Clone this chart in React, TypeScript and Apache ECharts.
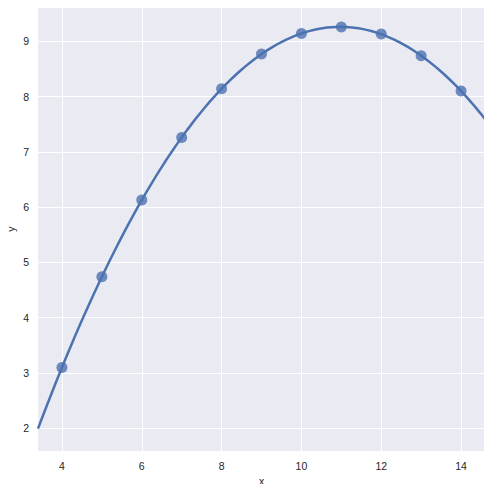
import React, { useEffect, useRef } from "react";
import * as echarts from "echarts";

const xValues = [10, 8, 13, 9, 11, 14, 6, 4, 12, 7, 5];
const yValues = [9.14, 8.14, 8.74, 8.77, 9.26, 8.1, 6.13, 3.1, 9.13, 7.26, 4.74];
const xTicks = [4, 6, 8, 10, 12, 14];
const yTicks = [2, 3, 4, 5, 6, 7, 8, 9];
const xRange = [3.4, 14.6];
const yRange = [1.59, 9.62];

// order-2 least squares regression fitted from the data (like seaborn's lmplot order=2)
function fitQuadratic(xs: number[], ys: number[]): number[] {
  const S = [0, 0, 0, 0, 0];
  const T = [0, 0, 0];
  for (let i = 0; i < xs.length; i++) {
    let p = 1;
    for (let k = 0; k < 5; k++) {
      S[k] += p;
      if (k < 3) T[k] += p * ys[i];
      p *= xs[i];
    }
  }
  const A = [
    [S[0], S[1], S[2], T[0]],
    [S[1], S[2], S[3], T[1]],
    [S[2], S[3], S[4], T[2]],
  ];
  for (let c = 0; c < 3; c++) {
    for (let r = c + 1; r < 3; r++) {
      const f = A[r][c] / A[c][c];
      for (let k = c; k < 4; k++) A[r][k] -= f * A[c][k];
    }
  }
  const b = [0, 0, 0];
  for (let r = 2; r >= 0; r--) {
    let s = A[r][3];
    for (let k = r + 1; k < 3; k++) s -= A[r][k] * b[k];
    b[r] = s / A[r][r];
  }
  return b;
}

export default function App() {
  const ref = useRef<HTMLDivElement>(null);
  useEffect(() => {
    if (!ref.current) return;
    const chart = echarts.init(ref.current, undefined, { renderer: "svg" });
    const coef = fitQuadratic(xValues, yValues);
    const line: number[][] = [];
    const n = 100;
    for (let i = 0; i < n; i++) {
      const x = xRange[0] + ((xRange[1] - xRange[0]) * i) / (n - 1);
      line.push([x, coef[0] + coef[1] * x + coef[2] * x * x]);
    }
    const font = "'Liberation Sans', Arial, sans-serif";
    chart.setOption({
      animation: false,
      backgroundColor: "#ffffff",
      grid: {
        left: 38,
        top: 7,
        right: 7,
        bottom: 41,
        show: true,
        backgroundColor: "#EAEAF2",
        borderWidth: 0,
        containLabel: false,
        outerBoundsMode: "none",
      },
      graphic: [
        {
          type: "text",
          x: 11,
          y: 229,
          rotation: Math.PI / 2,
          style: {
            text: "y",
            fill: "#262626",
            fontSize: 10.5,
            fontFamily: font,
            align: "center",
            verticalAlign: "middle",
          },
        },
      ],
      xAxis: {
        type: "value",
        min: xRange[0],
        max: xRange[1],
        name: "x",
        nameLocation: "middle",
        nameGap: 22,
        nameTextStyle: { color: "#262626", fontSize: 10.5, fontFamily: font },
        axisLine: { show: false },
        axisTick: { show: false, customValues: xTicks },
        axisLabel: {
          customValues: xTicks,
          color: "#262626",
          fontSize: 10.5,
          fontFamily: font,
          margin: 9,
        },
        splitLine: { show: true, lineStyle: { color: "#ffffff", width: 1 } },
      },
      yAxis: {
        type: "value",
        min: yRange[0],
        max: yRange[1],
        axisLine: { show: false },
        axisTick: { show: false, customValues: yTicks },
        axisLabel: {
          customValues: yTicks,
          color: "#262626",
          fontSize: 10.5,
          fontFamily: font,
          margin: 9,
        },
        splitLine: { show: true, lineStyle: { color: "#ffffff", width: 1 } },
      },
      series: [
        {
          type: "line",
          data: line,
          showSymbol: false,
          symbol: "none",
          smooth: false,
          lineStyle: { color: "#4C72B0", width: 2.5 },
          z: 2,
          silent: true,
        },
        {
          type: "scatter",
          data: xValues.map((x, i) => [x, yValues[i]]),
          symbolSize: 11,
          itemStyle: { color: "#4C72B0", opacity: 0.8 },
          z: 3,
        },
      ],
    });
    return () => chart.dispose();
  }, []);
  return <div ref={ref} style={{ width: 492, height: 492, margin: -8 }} />;
}
